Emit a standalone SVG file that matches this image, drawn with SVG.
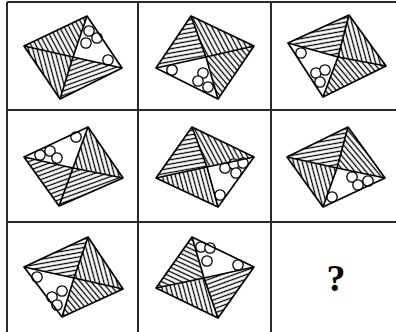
<svg xmlns="http://www.w3.org/2000/svg" width="396" height="332" viewBox="0 0 396 332">
<style>
.grid{stroke:#2a2a2a;stroke-width:2;fill:none}
.edge{stroke:#000;stroke-width:1.7;fill:none;stroke-linejoin:round}
.c{fill:#fff;stroke:#000;stroke-width:1.3}
.w{fill:#fff}
.q{font-family:"Liberation Serif",serif;font-weight:bold;font-size:38px;fill:#000}
</style>
<defs>
<pattern id="pm20" patternUnits="userSpaceOnUse" width="10" height="4.2" patternTransform="rotate(-20)"><rect width="10" height="4.2" fill="#fff"/><line x1="0" y1="2.1" x2="10" y2="2.1" stroke="#000" stroke-width="1.3"/></pattern>
<pattern id="pm10" patternUnits="userSpaceOnUse" width="10" height="4.2" patternTransform="rotate(-10)"><rect width="10" height="4.2" fill="#fff"/><line x1="0" y1="2.1" x2="10" y2="2.1" stroke="#000" stroke-width="1.3"/></pattern>
<pattern id="p30" patternUnits="userSpaceOnUse" width="10" height="4.2" patternTransform="rotate(25)"><rect width="10" height="4.2" fill="#fff"/><line x1="0" y1="2.1" x2="10" y2="2.1" stroke="#000" stroke-width="1.3"/></pattern>
<pattern id="p50" patternUnits="userSpaceOnUse" width="10" height="4.2" patternTransform="rotate(50)"><rect width="10" height="4.2" fill="#fff"/><line x1="0" y1="2.1" x2="10" y2="2.1" stroke="#000" stroke-width="1.3"/></pattern>
<pattern id="p62" patternUnits="userSpaceOnUse" width="10" height="4.2" patternTransform="rotate(62)"><rect width="10" height="4.2" fill="#fff"/><line x1="0" y1="2.1" x2="10" y2="2.1" stroke="#000" stroke-width="1.3"/></pattern>
<pattern id="p75" patternUnits="userSpaceOnUse" width="10" height="4.2" patternTransform="rotate(75)"><rect width="10" height="4.2" fill="#fff"/><line x1="0" y1="2.1" x2="10" y2="2.1" stroke="#000" stroke-width="1.3"/></pattern>
</defs>
<rect width="396" height="332" fill="#fff"/>
<g id="grid">
<line class="grid" x1="7" y1="2" x2="396" y2="2"/>
<line class="grid" x1="7" y1="110" x2="396" y2="110"/>
<line class="grid" x1="7" y1="222" x2="396" y2="222"/>
<line class="grid" x1="7" y1="2" x2="7" y2="332"/>
<line class="grid" x1="138" y1="2" x2="138" y2="332"/>
<line class="grid" x1="271" y1="2" x2="271" y2="332"/>
</g>
<g id="fig1">
<polygon points="24,46 87,16 73,57" fill="url(#p62)"/>
<polygon points="87,16 122,68 73,57" class="w"/>
<polygon points="122,68 60,99 73,57" fill="url(#pm20)"/>
<polygon points="60,99 24,46 73,57" fill="url(#p75)"/>
<circle class="c" cx="89" cy="31" r="5.2"/><circle class="c" cx="97" cy="38" r="5.2"/><circle class="c" cx="86" cy="43" r="5.2"/><circle class="c" cx="108" cy="60" r="5.2"/>
<polygon class="edge" points="24,46 87,16 122,68 60,99"/>
<path class="edge" d="M24,46 L73,57 L122,68 M87,16 L73,57 L60,99"/>
</g>
<g id="fig2">
<polygon points="156,68 191,16 206,57" fill="url(#pm10)"/>
<polygon points="191,16 254,46 206,57" fill="url(#p62)"/>
<polygon points="254,46 218,99 206,57" fill="url(#p50)"/>
<polygon points="218,99 156,68 206,57" class="w"/>
<circle class="c" cx="172" cy="70" r="5.2"/><circle class="c" cx="203" cy="73" r="5.2"/><circle class="c" cx="198" cy="81" r="5.2"/><circle class="c" cx="208" cy="87" r="5.2"/>
<polygon class="edge" points="156,68 191,16 254,46 218,99"/>
<path class="edge" d="M156,68 L206,57 L254,46 M191,16 L206,57 L218,99"/>
</g>
<g id="fig3">
<polygon points="288,43 349,15 338,57" fill="url(#pm10)"/>
<polygon points="349,15 386,66 338,57" fill="url(#p75)"/>
<polygon points="386,66 323,97 338,57" fill="url(#p50)"/>
<polygon points="323,97 288,43 338,57" class="w"/>
<circle class="c" cx="301" cy="53" r="5.2"/><circle class="c" cx="316" cy="73" r="5.2"/><circle class="c" cx="325" cy="70" r="5.2"/><circle class="c" cx="320" cy="82" r="5.2"/>
<polygon class="edge" points="288,43 349,15 386,66 323,97"/>
<path class="edge" d="M288,43 L338,57 L386,66 M349,15 L338,57 L323,97"/>
</g>
<g id="fig4">
<polygon points="24,157 88,127 73,168" class="w"/>
<polygon points="88,127 123,178 73,168" fill="url(#p75)"/>
<polygon points="123,178 59,206 73,168" fill="url(#pm20)"/>
<polygon points="59,206 24,157 73,168" fill="url(#pm20)"/>
<circle class="c" cx="40" cy="155" r="5.2"/><circle class="c" cx="50" cy="151" r="5.2"/><circle class="c" cx="57" cy="158" r="5.2"/><circle class="c" cx="76" cy="137" r="5.2"/>
<polygon class="edge" points="24,157 88,127 123,178 59,206"/>
<path class="edge" d="M24,157 L73,168 L123,178 M88,127 L73,168 L59,206"/>
</g>
<g id="fig5">
<polygon points="156,178 192,127 207,167" fill="url(#pm10)"/>
<polygon points="192,127 254,157 207,167" fill="url(#p62)"/>
<polygon points="254,157 218,207 207,167" class="w"/>
<polygon points="218,207 156,178 207,167" fill="url(#p75)"/>
<circle class="c" cx="225" cy="168" r="5.2"/><circle class="c" cx="234" cy="164" r="5.2"/><circle class="c" cx="243" cy="163" r="5.2"/><circle class="c" cx="236" cy="173" r="5.2"/><circle class="c" cx="220" cy="195" r="5.2"/>
<polygon class="edge" points="156,178 192,127 254,157 218,207"/>
<path class="edge" d="M156,178 L207,167 L254,157 M192,127 L207,167 L218,207"/>
</g>
<g id="fig6">
<polygon points="287,157 348,127 337,168" fill="url(#pm10)"/>
<polygon points="348,127 385,178 337,168" fill="url(#p50)"/>
<polygon points="385,178 323,207 337,168" class="w"/>
<polygon points="323,207 287,157 337,168" fill="url(#p75)"/>
<circle class="c" cx="352" cy="177" r="5.2"/><circle class="c" cx="358" cy="185" r="5.2"/><circle class="c" cx="368" cy="181" r="5.2"/><circle class="c" cx="332" cy="197" r="5.2"/>
<polygon class="edge" points="287,157 348,127 385,178 323,207"/>
<path class="edge" d="M287,157 L337,168 L385,178 M348,127 L337,168 L323,207"/>
</g>
<g id="fig7">
<polygon points="24,267 88,237 74,278" fill="url(#pm10)"/>
<polygon points="88,237 123,289 74,278" fill="url(#p75)"/>
<polygon points="123,289 62,317 74,278" fill="url(#p50)"/>
<polygon points="62,317 24,267 74,278" class="w"/>
<circle class="c" cx="37" cy="277" r="5.2"/><circle class="c" cx="62" cy="291" r="5.2"/><circle class="c" cx="52" cy="297" r="5.2"/><circle class="c" cx="57" cy="305" r="5.2"/>
<polygon class="edge" points="24,267 88,237 123,289 62,317"/>
<path class="edge" d="M24,267 L74,278 L123,289 M88,237 L74,278 L62,317"/>
</g>
<g id="fig8">
<polygon points="156,288 192,237 204,278" fill="url(#p30)"/>
<polygon points="192,237 254,267 204,278" class="w"/>
<polygon points="254,267 218,318 204,278" fill="url(#pm20)"/>
<polygon points="218,318 156,288 204,278" fill="url(#p75)"/>
<circle class="c" cx="201" cy="247" r="5.2"/><circle class="c" cx="210" cy="248" r="5.2"/><circle class="c" cx="207" cy="261" r="5.2"/><circle class="c" cx="238" cy="265" r="5.2"/>
<polygon class="edge" points="156,288 192,237 254,267 218,318"/>
<path class="edge" d="M156,288 L204,278 L254,267 M192,237 L204,278 L218,318"/>
</g>
<text class="q" x="336" y="291" text-anchor="middle">?</text>
</svg>
